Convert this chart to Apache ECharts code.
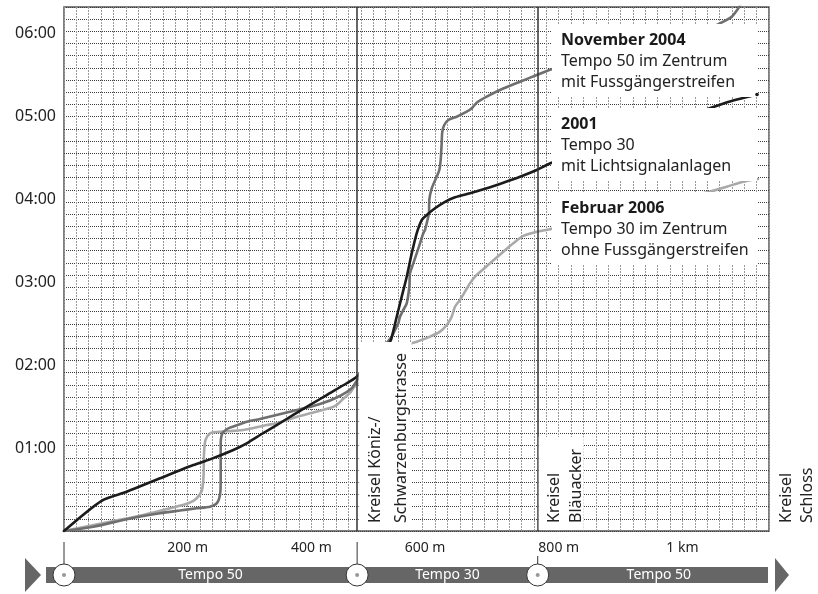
<!DOCTYPE html>
<html><head><meta charset="utf-8">
<script src="https://cdn.jsdelivr.net/npm/echarts@6/dist/echarts.min.js"></script>
<style>html,body{margin:0;padding:0;background:#fff}#c{width:818px;height:594px}</style>
</head><body><div id="c"></div>
<script>
// ---- data (distance in metres, time in seconds) ----
const xTickValues = [200, 400, 600, 800, 1000];
const xTickLabels = ['200 m', '400 m', '600 m', '800 m', '1 km'];
const yTickValues = [60, 120, 180, 240, 300, 360];
const yTickLabels = ['01:00', '02:00', '03:00', '04:00', '05:00', '06:00'];

const roundaboutPos = [0, 474, 766, 1140];
const roundaboutNames = ['', 'Kreisel Köniz-/\nSchwarzenburgstrasse', 'Kreisel\nBläuacker', 'Kreisel\nSchloss'];
const zoneLabels = ['Tempo 50', 'Tempo 30', 'Tempo 50'];

const legendTitles = ['November 2004', '2001', 'Februar 2006'];
const legendLines = [['Tempo 50 im Zentrum', 'mit Fussgängerstreifen'],
                     ['Tempo 30', 'mit Lichtsignalanlagen'],
                     ['Tempo 30 im Zentrum', 'ohne Fussgängerstreifen']];

const run2001 = [[0,0],[61.4,22.0],[101.4,28.4],[155.2,38.1],[209.1,47.7],[236.1,51.8],[273.8,58.6],[295.4,63.4],[316.9,69.4],[343.9,76.6],[370.8,83.9],[397.8,91.1],[424.8,98.3],[457.1,106.8],[473.3,111.5],[527.2,136.8],[531.5,142.9],[538.0,154.9],[546.1,169.4],[554.2,183.8],[562.3,200.7],[570.3,215.2],[578.4,224.8],[586.5,228.4],[599.9,233.3],[616.1,238.0],[632.3,241.2],[656.5,244.1],[683.5,247.7],[710.4,251.8],[737.4,256.1],[764.4,261.0],[788.6,266.2],[931.4,287.7],[1068.9,309.4],[1120.6,315.5]];

const runNov2004 = [[0,0],[47.4,3.1],[101.4,8.5],[155.2,12.8],[187.6,14.8],[214.6,16.4],[236.1,17.6],[245.8,19.5],[250.6,23.1],[253.1,29.6],[253.4,46.5],[253.4,63.4],[256.3,70.8],[265.2,74.1],[273.8,75.5],[295.4,79.0],[316.9,81.0],[370.3,86.7],[414.0,91.8],[446.3,97.6],[465.2,103.2],[473.3,108.4],[529.9,140.5],[535.2,145.3],[540.6,150.1],[543.3,154.9],[548.7,159.8],[554.2,164.6],[558.4,176.6],[559.5,186.3],[564.8,193.5],[570.3,200.7],[575.7,208.0],[581.0,215.2],[583.7,217.6],[586.5,222.4],[590.2,229.9],[590.7,239.3],[594.6,247.7],[601.5,255.0],[606.9,261.0],[609.1,268.2],[610.7,280.3],[611.7,288.6],[614.9,293.5],[621.4,297.1],[635.0,299.5],[651.2,303.1],[659.3,305.6],[667.3,309.6],[683.5,314.0],[705.0,318.8],[737.4,324.8],[764.4,329.6],[788.6,333.8],[931.4,351.3],[1044.6,363.6],[1066.1,368.2],[1079.7,371.8],[1090.4,377.9],[1096.4,382.4]];

const runFeb2006 = [[0,0],[74.4,6.7],[128.2,11.6],[171.4,16.4],[201.0,20.0],[213.4,23.1],[222.7,28.9],[225.6,39.3],[226.4,56.2],[228.8,65.8],[236.1,70.6],[246.9,71.6],[289.9,73.0],[327.8,76.6],[344.0,77.9],[365.4,81.0],[397.8,85.1],[430.1,88.9],[440.9,91.1],[451.1,95.4],[462.4,99.8],[470.6,104.8],[562.2,135.7],[570.3,136.8],[591.8,140.5],[608.0,144.1],[618.8,148.9],[626.9,154.9],[632.2,162.1],[640.3,167.0],[648.4,173.0],[656.5,179.1],[667.3,185.1],[688.9,193.5],[710.4,201.9],[726.5,208.0],[742.7,213.3],[764.4,216.4],[785.9,218.1],[931.4,235.7],[1044.6,245.3],[1071.6,248.9],[1098.0,252.5],[1122.2,254.5]];

// ---- chart ----
const FONT = '"Noto Sans", "DejaVu Sans", sans-serif';
const chart = echarts.init(document.getElementById('c'), null, {renderer: 'canvas'});

function lineSeries(name, data, color, extra) {
  return Object.assign({
    name, type: 'line', data, showSymbol: false, symbol: 'none', smooth: 0.25,
    lineStyle: {color, width: 2.6, cap: 'round', join: 'round'}, z: 3, animation: false
  }, extra || {});
}

const option = {
  animation: false,
  backgroundColor: '#fff',
  grid: {left: 64, right: 49, top: 7, bottom: 63, show: true, borderColor: '#555', borderWidth: 1.5, backgroundColor: '#fff'},
  xAxis: [{
    type: 'value', min: 0, max: 1140, interval: 20,
    axisLine: {show: false}, axisTick: {show: false},
    splitLine: {show: true, lineStyle: {type: [2, 1], color: '#9a9a9a', width: 1}},
    axisLabel: {
      margin: 10, color: '#222', fontFamily: FONT, fontSize: 14,
      formatter: v => { const i = xTickValues.indexOf(v); return i >= 0 ? (v === 600 ? '{s|' + xTickLabels[i] + '}' : xTickLabels[i]) : ''; },
      rich: {s: {fontFamily: FONT, fontSize: 14, color: '#222', padding: [0, 20, 0, 0]}}
    }
  }],
  yAxis: [{
    type: 'value', min: 0, max: 378.8, interval: 60,
    axisLine: {show: false}, axisTick: {show: false}, splitLine: {show: false},
    axisLabel: {
      margin: 8, color: '#222', fontFamily: FONT, fontSize: 16,
      formatter: v => { const i = yTickValues.indexOf(v); return i >= 0 ? yTickLabels[i] : ''; }
    }
  }, {
    type: 'value', min: 0, max: 43, interval: 1, position: 'right',
    axisLine: {show: false}, axisTick: {show: false}, axisLabel: {show: false},
    splitLine: {show: true, lineStyle: {type: [1, 1], color: '#3a3a3a', width: 1}}
  }],
  series: [
    lineSeries('Februar 2006', runFeb2006, '#a9a9a9'),
    lineSeries('November 2004', runNov2004, '#6f6f6f'),
    lineSeries('2001', run2001, '#1b1b1b', {
      markLine: {
        silent: true, symbol: 'none', label: {show: false},
        lineStyle: {type: 'solid', color: '#333', width: 1.5},
        data: [{xAxis: roundaboutPos[1]}, {xAxis: roundaboutPos[2]}]
      }
    })
  ]
};
chart.setOption(option);

// ---- annotations, placed from the axis scales ----
const px = m => chart.convertToPixel({xAxisIndex: 0}, m);
const py = s => chart.convertToPixel({yAxisIndex: 0}, s);
const g = [];
const yBottom = py(0);
const Z = 50;

// labels for roundabouts inside plot (white boxes)
const kx = px(roundaboutPos[1]);
g.push({type: 'rect', z: Z, shape: {x: kx + 1.5, y: 342, width: 53, height: yBottom - 342 - 1}, style: {fill: '#fff'}});
g.push({type: 'text', z: Z + 1, x: kx + 5, y: yBottom - 8, rotation: Math.PI / 2,
  style: {text: roundaboutNames[1], font: '16px ' + FONT, fill: '#222', align: 'left', verticalAlign: 'top', textAlign: 'left', textVerticalAlign: 'top', lineHeight: 26}});
const bx = px(roundaboutPos[2]);
g.push({type: 'rect', z: Z, shape: {x: bx + 1, y: 437, width: 45, height: yBottom - 437 - 1}, style: {fill: '#fff'}});
g.push({type: 'text', z: Z + 1, x: bx + 6, y: yBottom - 8, rotation: Math.PI / 2,
  style: {text: roundaboutNames[2], font: '16px ' + FONT, fill: '#222', align: 'left', verticalAlign: 'top', textAlign: 'left', textVerticalAlign: 'top', lineHeight: 22}});
const sx = px(roundaboutPos[3]);
g.push({type: 'text', z: Z + 1, x: sx + 7, y: yBottom - 8, rotation: Math.PI / 2,
  style: {text: roundaboutNames[3], font: '16px ' + FONT, fill: '#222', align: 'left', verticalAlign: 'top', textAlign: 'left', textVerticalAlign: 'top', lineHeight: 21}});

// legend boxes
for (let i = 0; i < 3; i++) {
  const top = 24 + i * 84;
  g.push({type: 'rect', z: Z, shape: {x: 552, y: top, width: 205, height: 73}, style: {fill: '#fff'}});
  g.push({type: 'text', z: Z + 1, x: 561, y: top + 16,
    style: {text: legendTitles[i], font: 'bold 16px ' + FONT, fill: '#1a1a1a', align: 'left', verticalAlign: 'middle', textAlign: 'left', textVerticalAlign: 'middle'}});
  legendLines[i].forEach((t, j) => g.push({type: 'text', z: Z + 1, x: 561, y: top + 37 + j * 21,
    style: {text: t, font: '16px ' + FONT, fill: '#222', align: 'left', verticalAlign: 'middle', textAlign: 'left', textVerticalAlign: 'middle'}}));
}

// end dot of the 2001 line
const last = run2001[run2001.length - 1];
g.push({type: 'circle', z: Z + 2, shape: {cx: px(last[0]), cy: py(last[1]), r: 1.8}, style: {fill: '#1b1b1b'}});

// bottom route bar
const barY = 575;
g.push({type: 'rect', z: Z, shape: {x: 46, y: barY - 8, width: 722, height: 16}, style: {fill: '#666'}});
g.push({type: 'polygon', z: Z, shape: {points: [[25, barY - 17], [41, barY], [25, barY + 17]]}, style: {fill: '#666'}});
g.push({type: 'polygon', z: Z, shape: {points: [[775, barY - 17], [789, barY], [775, barY + 17]]}, style: {fill: '#666'}});
const stopX = [px(roundaboutPos[0]), px(roundaboutPos[1]), px(roundaboutPos[2])];
const stemTop = [542, 542, 556];
stopX.forEach((x, i) => {
  g.push({type: 'line', z: Z, shape: {x1: x, y1: stemTop[i], x2: x, y2: barY - 11}, style: {stroke: '#333', lineWidth: 1}});
  g.push({type: 'circle', z: Z + 1, shape: {cx: x, cy: barY, r: 11}, style: {fill: '#fff', stroke: '#333', lineWidth: 1}});
  g.push({type: 'circle', z: Z + 2, shape: {cx: x, cy: barY, r: 2}, style: {fill: '#999'}});
});
const zoneEnds = [stopX[0], stopX[1], stopX[2], 780];
zoneLabels.forEach((t, i) => g.push({type: 'text', z: Z + 1, x: (zoneEnds[i] + zoneEnds[i + 1]) / 2, y: barY,
  style: {text: t, font: '14px ' + FONT, fill: '#fff', align: 'center', verticalAlign: 'middle', textAlign: 'center', textVerticalAlign: 'middle'}}));

chart.setOption({graphic: {elements: g}});
</script>
</body></html>
